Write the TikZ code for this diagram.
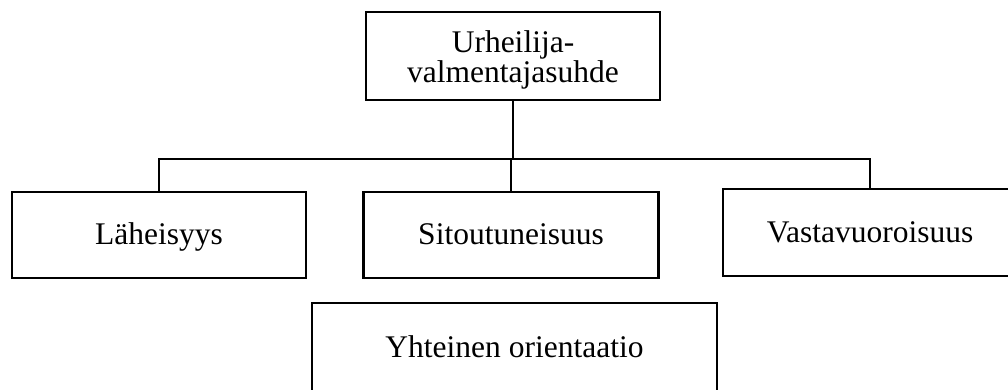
\documentclass[tikz,border=0pt]{standalone}
\usepackage{fontspec}
\setmainfont{Liberation Serif}
\tikzset{
  box/.style={draw,line width=2pt,inner sep=0pt,align=center,
    font=\fontsize{22.4}{21.5}\selectfont},
  onebox/.style={box,text height=0.6cm,text depth=0.125cm},
  link/.style={line width=2pt}
}
\begin{document}
\begin{tikzpicture}[x=0.025cm,y=-0.025cm]
\clip (0,0) rectangle (1008,389);

\node[box,minimum width=7.35cm,minimum height=2.2cm] (rel) at (513,56) {\rule{0pt}{21.5pt}Urheilija-\\valmentajasuhde};

\node[onebox,minimum width=7.35cm,minimum height=2.15cm] (lah) at (159,235) {L\"aheisyys};
\node[onebox,minimum width=7.375cm,minimum height=2.15cm] (sit) at (511,235) {Sitoutuneisuus};
\node[onebox,minimum width=7.35cm,minimum height=2.175cm] (vas) at (870,232.5) {Vastavuoroisuus};
\node[onebox,minimum width=10.125cm,minimum height=2.225cm] (yht) at (514.5,347.5) {Yhteinen orientaatio};

\coordinate (bus) at (513,159);
\draw[link] (rel.south) -- (bus);
\draw[link] (lah.north) |- (bus);
\draw[link] (vas.north) |- (bus);
\draw[link] (sit.north) -- (sit.north |- bus);
\end{tikzpicture}
\end{document}
